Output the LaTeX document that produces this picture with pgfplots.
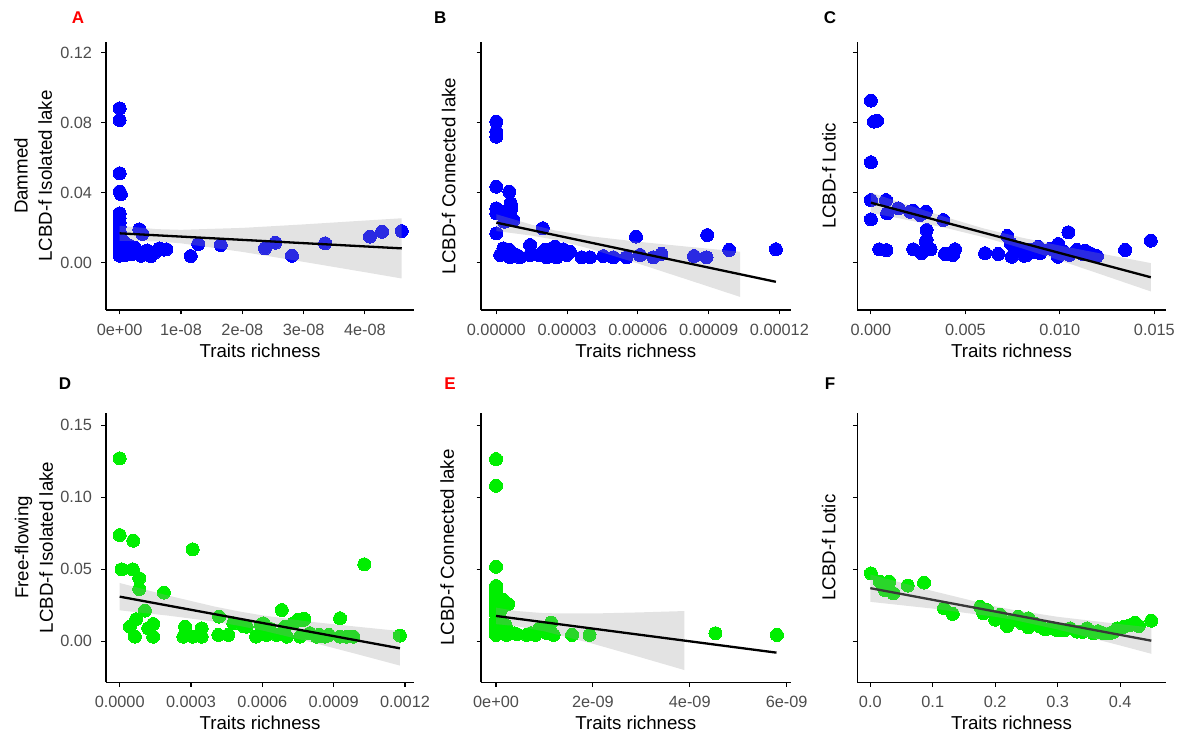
\documentclass[border=0pt]{standalone}
\usepackage{fontspec}
\setmainfont{Liberation Sans}
\usepackage{pgfplots}
\pgfplotsset{compat=1.18}

\definecolor{ptblue}{HTML}{0000FF}
\definecolor{ptgreen}{HTML}{00EE00}
\definecolor{tickgray}{HTML}{4D4D4D}
\definecolor{bandgray}{HTML}{999999}
\definecolor{panelred}{HTML}{FF0000}

\tikzset{plab/.style={font=\fontsize{17bp}{20bp}\selectfont\bfseries}}

\pgfplotsset{
  panel/.style={
    scale only axis,
    clip mode=individual,
    axis x line*=bottom, axis y line*=left,
    axis line style={-, line width=1.2bp, black},
    tick align=outside, major tick length=4.5bp,
    tick style={black, line width=1.1bp},
    minor tick num=0,
    tick label style={font=\fontsize{16.3bp}{19bp}\selectfont, text=tickgray},
    xticklabel style={anchor=center, inner sep=0pt, yshift=-15.5bp},
    yticklabel style={anchor=east, inner sep=0pt, xshift=-9.3bp},
    xlabel={Traits richness},
    xlabel style={at={(axis description cs:0.5,-0.152)}, anchor=center, font=\fontsize{18.7bp}{22bp}\selectfont},
    ylabel style={anchor=center, align=center, font=\fontsize{18.7bp}{24.3bp}\selectfont},
    scaled ticks=false,
  },
  row1/.style={panel, anchor=south west, width=308bp, height=268bp,
    ymin=-0.027, ymax=0.1261, ytick={0,0.04,0.08,0.12}},
  row2/.style={panel, anchor=south west, width=308bp, height=269.6bp,
    ymin=-0.0285, ymax=0.1588, ytick={0,0.05,0.10,0.15}},
  pts/.style={only marks, color=#1, mark=*, mark size=6.5bp, mark options={draw=#1, fill=#1, line width=0pt}},
  band/.style={fill=bandgray, fill opacity=0.28, draw=none},
  fit/.style={line width=2.3bp, color=#1},
}

\begin{document}
\begin{tikzpicture}
\path[use as bounding box] (0,0) rectangle (1184bp,735bp);

% ---------- A ----------
\begin{axis}[row1, at={(106bp,425bp)},
  xmin=-0.223e-8, xmax=4.80e-8,
  xtick={0,1e-8,2e-8,3e-8,4e-8},
  xticklabels={0e+00,1e-08,2e-08,3e-08,4e-08},
  yticklabels={0.00,0.04,0.08,0.12},
  ylabel={Dammed\\LCBD-f Isolated lake},
  ylabel style={at={(axis description cs:-0.237,0.5)}}]
\addplot[pts=ptblue] coordinates {
(0,0.0882) (0,0.0815) (0,0.0511) (0,0.0406) (0.02e-8,0.0392) (0,0.0282) (0,0.0255)
(0,0.0230) (0,0.0205) (0,0.0180) (0,0.0155) (0,0.0130) (0,0.0105) (0,0.0080)
(0,0.0055) (0,0.0040) (0.05e-8,0.0065) (0.1e-8,0.0045) (0.12e-8,0.0085)
(0.16e-8,0.0073) (0.2e-8,0.0050) (0.25e-8,0.0085) (0.29e-8,0.0054) (0.32e-8,0.0191)
(0.37e-8,0.0165) (0.35e-8,0.0040) (0.45e-8,0.0070) (0.51e-8,0.0038) (0.58e-8,0.0060)
(0.65e-8,0.0082) (0.72e-8,0.0075) (0.76e-8,0.0077) (0.08e-8,0.0115) (0.15e-8,0.0100)
(1.16e-8,0.0038) (1.28e-8,0.0107) (1.65e-8,0.0101) (2.37e-8,0.0082) (2.54e-8,0.0114)
(2.81e-8,0.0040) (3.35e-8,0.0111) (4.08e-8,0.0149) (4.28e-8,0.0177) (4.60e-8,0.0181)
};
\addplot[band] coordinates {
(0,0.0211) (0.6e-8,0.0192) (1e-8,0.0188) (2e-8,0.0199) (3e-8,0.0219) (4e-8,0.0241) (4.6e-8,0.0254)
(4.6e-8,-0.0090) (4e-8,-0.0054) (3e-8,0.0005) (2e-8,0.0062) (1e-8,0.0111) (0.6e-8,0.0122) (0,0.0125)
};
\addplot[fit=black] coordinates {(0,0.0168) (4.6e-8,0.0082)};
\node[plab, text=panelred] at (axis description cs:-0.091,1.0896) {A};
\end{axis}

% ---------- B ----------
\begin{axis}[row1, at={(481bp,425bp)}, width=309.5bp,
  xmin=-0.65e-5, xmax=12.47e-5,
  xtick={0,3e-5,6e-5,9e-5,12e-5},
  xticklabels={0.00000,0.00003,0.00006,0.00009,0.00012},
  yticklabels={},
  ylabel={LCBD-f Connected lake},
  ylabel style={at={(axis description cs:-0.104,0.5)}}]
\addplot[pts=ptblue] coordinates {
(0,0.0806) (0,0.0749) (0,0.0720) (0,0.0434) (0.55e-5,0.0406) (0,0.0311) (0.61e-5,0.0340)
(0.64e-5,0.0310) (0,0.0282) (0.37e-5,0.0244) (0.72e-5,0.0244) (0,0.0168) (1.97e-5,0.0197)
(0.2e-5,0.0291) (0.34e-5,0.0234)
(5.92e-5,0.0149) (8.94e-5,0.0158) (9.87e-5,0.0073) (11.85e-5,0.0077) (6.09e-5,0.0044)
(6.65e-5,0.0031) (7.0e-5,0.0050) (8.38e-5,0.0038) (8.91e-5,0.0031) (5.52e-5,0.0031)
(4.96e-5,0.0031) (4.53e-5,0.0038) (3.97e-5,0.0031) (3.62e-5,0.0031) (3.12e-5,0.0063)
(2.84e-5,0.0077) (2.49e-5,0.0092) (2.56e-5,0.0031) (2.14e-5,0.0031) (2.06e-5,0.0073)
(1.43e-5,0.0101) (1.43e-5,0.0044) (1.0e-5,0.0031) (0.58e-5,0.0031) (0.30e-5,0.0082)
(0.16e-5,0.0044) (0.55e-5,0.0073) (0.86e-5,0.0044) (2.98e-5,0.0044) (2.27e-5,0.0077)
(1.80e-5,0.0044)
};
\addplot[band] coordinates {
(0,0.0277) (1.5e-5,0.0217) (2.5e-5,0.0184) (4e-5,0.0151) (6e-5,0.0120) (8e-5,0.0093) (10.33e-5,0.0063)
(10.33e-5,-0.0195) (8e-5,-0.0092) (6e-5,-0.0004) (4e-5,0.0079) (2.5e-5,0.0131) (1.5e-5,0.0155) (0,0.0181)
};
\addplot[fit=black] coordinates {(0,0.0229) (11.85e-5,-0.0109)};
\node[plab] at (axis description cs:-0.132,1.0896) {B};
\end{axis}

% ---------- C ----------
\begin{axis}[row1, at={(857.3bp,425bp)}, width=308.4bp,
  xmin=-0.00072, xmax=0.0156,
  xtick={0,0.005,0.010,0.015},
  xticklabels={0.000,0.005,0.010,0.015},
  yticklabels={},
  ylabel={LCBD-f Lotic},
  ylabel style={at={(axis description cs:-0.092,0.5)}}]
\addplot[pts=ptblue] coordinates {
(0,0.0926) (0.00016,0.0806) (0.00033,0.0811) (0,0.0574) (0,0.0358) (0,0.0248)
(0.0008,0.0358) (0.00086,0.0282) (0.00145,0.0311) (0.00224,0.0297) (0.00260,0.0273)
(0.00291,0.0291) (0.00208,0.0291) (0.00383,0.0244) (0.00295,0.0187) (0.00295,0.0130)
(0.00044,0.0077) (0.00082,0.0072) (0.00224,0.0077) (0.00268,0.0054) (0.00316,0.0077)
(0.00392,0.0050) (0.00445,0.0077) (0.00434,0.0044) (0.00604,0.0054) (0.00674,0.0050)
(0.00722,0.0153) (0.00745,0.0034) (0.0079,0.0082) (0.00825,0.0044) (0.0086,0.0063)
(0.00895,0.0054) (0.00886,0.0091) (0.00992,0.0107) (0.0099,0.0034) (0.01045,0.0174)
(0.0102,0.0063) (0.0109,0.0073) (0.01134,0.0069) (0.01196,0.0038) (0.0116,0.0054)
(0.01345,0.0073) (0.01481,0.0126) (0.0074,0.0110) (0.0076,0.0060) (0.0081,0.0040)
(0.0084,0.0075) (0.0095,0.0080) (0.0105,0.0045) (0.0112,0.0050) (0.0029,0.0120)
};
\addplot[band] coordinates {
(0,0.0401) (0.002,0.0328) (0.004,0.0259) (0.006,0.0195) (0.008,0.0143) (0.010,0.0098) (0.012,0.0056) (0.01481,-0.0002)
(0.01481,-0.0164) (0.012,-0.0060) (0.010,0.0013) (0.008,0.0082) (0.006,0.0145) (0.004,0.0198) (0.002,0.0243) (0,0.0285)
};
\addplot[fit=black] coordinates {(0,0.0343) (0.01481,-0.0083)};
\node[plab] at (axis description cs:-0.0885,1.0896) {C};
\end{axis}

% ---------- D ----------
\begin{axis}[row2, at={(106bp,52.7bp)},
  xmin=-0.0000576, xmax=0.001238,
  xtick={0,0.0003,0.0006,0.0009,0.0012},
  xticklabels={0.0000,0.0003,0.0006,0.0009,0.0012},
  yticklabels={0.00,0.05,0.10,0.15},
  ylabel={Free-flowing\\LCBD-f Isolated lake},
  ylabel style={at={(axis description cs:-0.234,0.5)}}]
\addplot[pts=ptgreen] coordinates {
(0,0.1271) (0,0.0738) (5.7e-5,0.0699) (3.07e-4,0.0639) (1.029e-3,0.0535) (8e-6,0.0500)
(5.5e-5,0.0500) (8.2e-5,0.0438) (8.2e-5,0.0363) (1.86e-4,0.0338) (1.06e-4,0.0213)
(6.9e-5,0.0153) (4.3e-5,0.0101) (6.4e-5,0.0032) (1.41e-4,0.0120) (1.2e-4,0.0090)
(1.41e-4,0.0032) (2.75e-4,0.0101) (2.68e-4,0.0032) (3.07e-4,0.0032) (3.45e-4,0.0090)
(3.45e-4,0.0032) (4.18e-4,0.0171) (4.15e-4,0.0044) (4.57e-4,0.0044) (4.78e-4,0.0125)
(5.20e-4,0.0106) (5.34e-4,0.0101) (5.74e-4,0.0032) (6.04e-4,0.0125) (6.18e-4,0.0044)
(6.60e-4,0.0044) (6.82e-4,0.0217) (6.95e-4,0.0101) (7.03e-4,0.0032) (7.30e-4,0.0125)
(7.59e-4,0.0032) (7.73e-4,0.0148) (8.00e-4,0.0056) (8.29e-4,0.0032) (8.64e-4,0.0032)
(9.27e-4,0.0160) (9.27e-4,0.0032) (9.83e-4,0.0032) (1.179e-3,0.0040) (7.49e-4,0.0148)
(7.77e-4,0.0155) (5.94e-4,0.0113) (8.4e-4,0.0044) (8.8e-4,0.0044) (9.55e-4,0.0032)
(6.3e-4,0.0090)
};
\addplot[band] coordinates {
(0,0.0405) (2e-4,0.0319) (4e-4,0.0241) (5e-4,0.0208) (6e-4,0.0180) (8e-4,0.0136) (10e-4,0.0101) (11.79e-4,0.0071)
(11.79e-4,-0.0169) (10e-4,-0.0090) (8e-4,-0.0004) (6e-4,0.0075) (5e-4,0.0108) (4e-4,0.0136) (2e-4,0.0179) (0,0.0215)
};
\addplot[fit=black] coordinates {(0,0.031) (1.179e-3,-0.0049)};
\node[plab] at (axis description cs:-0.133,1.1065) {D};
\end{axis}

% ---------- E ----------
\begin{axis}[row2, at={(481bp,52.7bp)}, width=309.5bp,
  xmin=-0.31e-9, xmax=6.08e-9,
  xtick={0,2e-9,4e-9,6e-9},
  xticklabels={0e+00,2e-09,4e-09,6e-09},
  yticklabels={},
  ylabel={LCBD-f Connected lake},
  ylabel style={at={(axis description cs:-0.109,0.5)}}]
\addplot[pts=ptgreen] coordinates {
(0,0.1266) (0,0.1080) (0,0.0518) (0,0.0384) (0,0.0356) (0,0.0330) (0,0.0300) (0,0.0270)
(0,0.0240) (0,0.0218) (0,0.0190) (0,0.0148) (0,0.0120) (0,0.0090) (0,0.0060) (0,0.0044)
(0.15e-9,0.0287) (0.25e-9,0.0259) (0.1e-9,0.0148) (0.38e-9,0.0056) (0.72e-9,0.0056)
(1.14e-9,0.0130) (0.9e-9,0.0090) (1.19e-9,0.0044) (1.57e-9,0.0044) (1.93e-9,0.0044)
(4.53e-9,0.0056) (5.8e-9,0.0044) (0.22e-9,0.0044) (0.43e-9,0.0050) (0.63e-9,0.0044)
(0.81e-9,0.0044) (1.05e-9,0.0056) (0.1e-9,0.0080) (0.2e-9,0.0110) (0.1e-9,0.0220)
};
\addplot[band] coordinates {
(0,0.0234) (0.4e-9,0.0211) (1e-9,0.0195) (2e-9,0.0193) (3e-9,0.0201) (3.89e-9,0.0210)
(3.89e-9,-0.0200) (3e-9,-0.0113) (2e-9,-0.0017) (1e-9,0.0069) (0.4e-9,0.0106) (0,0.0119)
};
\addplot[fit=black] coordinates {(0,0.0176) (5.79e-9,-0.0079)};
\node[plab, text=panelred] at (axis description cs:-0.1,1.1065) {E};
\end{axis}

% ---------- F ----------
\begin{axis}[row2, at={(857.3bp,52.7bp)}, width=308.4bp,
  xmin=-0.0208, xmax=0.473,
  xtick={0,0.1,0.2,0.3,0.4},
  xticklabels={0.0,0.1,0.2,0.3,0.4},
  yticklabels={},
  ylabel={LCBD-f Lotic},
  ylabel style={at={(axis description cs:-0.093,0.5)}}]
\addplot[pts=ptgreen] coordinates {
(0.001,0.0472) (0.0155,0.0414) (0.0305,0.0414) (0.0235,0.0356) (0.0369,0.0333) (0.06,0.0387)
(0.086,0.0407) (0.118,0.0229) (0.132,0.0190) (0.176,0.0240) (0.181,0.0194) (0.187,0.0217)
(0.208,0.0183) (0.219,0.0106) (0.237,0.0171) (0.243,0.0124) (0.253,0.0160) (0.253,0.0097)
(0.272,0.0101) (0.280,0.0083) (0.299,0.0078) (0.320,0.0090) (0.331,0.0067) (0.347,0.0090)
(0.357,0.0056) (0.373,0.0056) (0.384,0.0056) (0.395,0.0090) (0.406,0.0101) (0.424,0.0129)
(0.430,0.0106) (0.450,0.0143) (0.02,0.0380) (0.225,0.0140) (0.265,0.0120) (0.31,0.0075)
(0.34,0.0065) (0.365,0.0070) (0.39,0.0065) (0.415,0.0110) (0.20,0.0150) (0.29,0.0095)
};
\addplot[band] coordinates {
(0,0.0464) (0.1,0.0349) (0.2,0.0243) (0.23,0.0217) (0.3,0.0170) (0.4,0.0119) (0.45,0.0095)
(0.45,-0.0087) (0.4,-0.0029) (0.3,0.0082) (0.23,0.0148) (0.2,0.0170) (0.1,0.0227) (0,0.0274)
};
\addplot[fit={black!78}] coordinates {(0,0.0369) (0.45,0.0004)};
\node[plab] at (axis description cs:-0.0885,1.1065) {F};
\end{axis}
\end{tikzpicture}
\end{document}
